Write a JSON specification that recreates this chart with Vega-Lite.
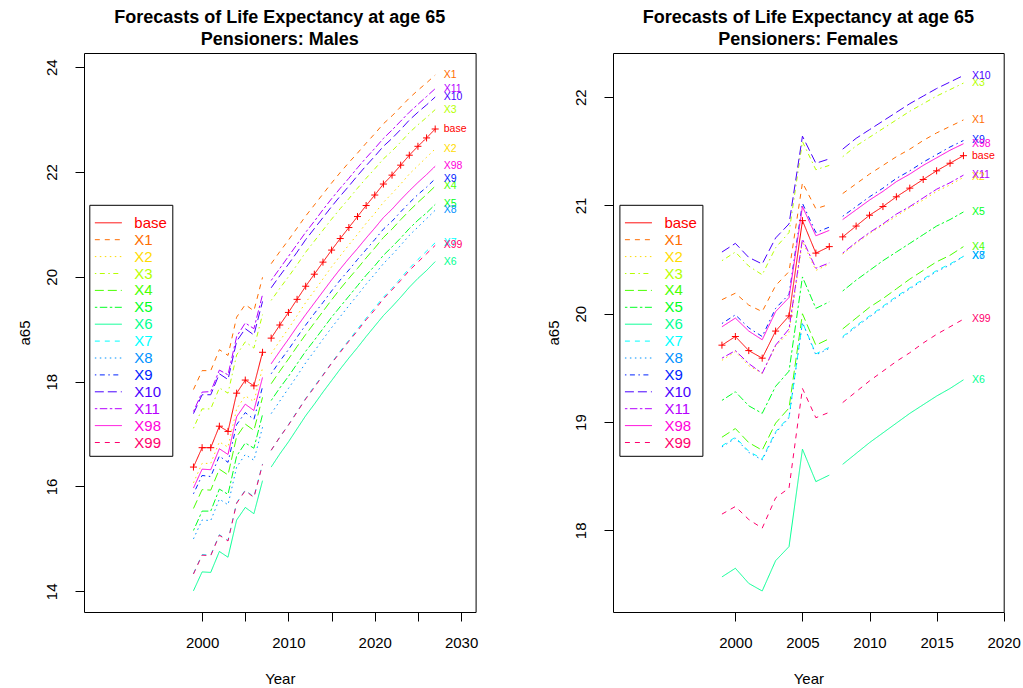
{
"$schema": "https://vega.github.io/schema/vega-lite/v6.json",
"padding": {"left": 16, "top": 8, "right": 0, "bottom": 0},
"config": {
 "font": "Liberation Sans",
 "view": {"stroke": "black", "strokeWidth": 1},
 "axis": {"domain": false, "grid": false, "tickColor": "black", "tickSize": 9, "labelColor": "black", "labelFontSize": 15, "titleFontSize": 15, "titleFontWeight": "normal", "titleColor": "black", "labelFont": "Liberation Sans", "titleFont": "Liberation Sans", "labelFlush": false},
 "axisX": {"labelBaseline": "alphabetic", "labelPadding": 26, "titleBaseline": "alphabetic", "titlePadding": 33.6, "minExtent": 38, "maxExtent": 38, "format": "d"},
 "axisY": {"labelAngle": -90, "labelAlign": "center", "labelBaseline": "alphabetic", "labelPadding": 19, "titleAngle": -90, "titleBaseline": "alphabetic", "titlePadding": 15, "minExtent": 40, "maxExtent": 40},
 "title": {"fontSize": 18, "fontWeight": "bold", "color": "black", "lineHeight": 22, "baseline": "bottom", "offset": 4, "anchor": "middle", "frame": "group", "font": "Liberation Sans"},
 "legend": {"symbolType": "stroke", "symbolSize": 729, "symbolStrokeWidth": 1, "labelFontSize": 15, "labelFont": "Liberation Sans", "strokeColor": "black", "fillColor": "white", "padding": 5, "rowPadding": 1.9, "clipHeight": 14, "labelOffset": 12, "symbolOffset": 0, "titleFontSize": 1, "titlePadding": 5,
  "labelColor": {"expr": "['#FF0000','#FF6D00','#FFDB00','#B6FF00','#49FF00','#00FF24','#00FF92','#00FFFF','#0092FF','#0024FF','#4900FF','#B600FF','#FF00DB','#FF006D'][indexof(['base','X1','X2','X3','X4','X5','X6','X7','X8','X9','X10','X11','X98','X99'], datum.label)]"}}
},
"datasets": {
 "m": [
  {"Year":1999,"p":"h","base":16.37,"X1":17.85,"X2":16.07,"X3":17.11,"X4":15.58,"X5":15.16,"X6":14.01,"X7":14.34,"X8":15.00,"X9":15.86,"X10":17.39,"X11":17.43,"X98":15.97,"X99":14.33},
  {"Year":2000,"p":"h","base":16.74,"X1":18.21,"X2":16.44,"X3":17.48,"X4":15.94,"X5":15.53,"X6":14.37,"X7":14.70,"X8":15.36,"X9":16.21,"X10":17.75,"X11":17.80,"X98":16.33,"X99":14.69},
  {"Year":2001,"p":"h","base":16.74,"X1":18.21,"X2":16.44,"X3":17.48,"X4":15.93,"X5":15.53,"X6":14.36,"X7":14.69,"X8":15.35,"X9":16.19,"X10":17.75,"X11":17.81,"X98":16.32,"X99":14.68},
  {"Year":2002,"p":"h","base":17.15,"X1":18.61,"X2":16.85,"X3":17.88,"X4":16.33,"X5":15.95,"X6":14.76,"X7":15.08,"X8":15.76,"X9":16.58,"X10":18.15,"X11":18.22,"X98":16.72,"X99":15.07},
  {"Year":2003,"p":"h","base":17.05,"X1":18.50,"X2":16.75,"X3":17.78,"X4":16.22,"X5":15.85,"X6":14.65,"X7":14.97,"X8":15.65,"X9":16.46,"X10":18.04,"X11":18.13,"X98":16.61,"X99":14.96},
  {"Year":2004,"p":"h","base":17.78,"X1":19.23,"X2":17.48,"X3":18.51,"X4":16.95,"X5":16.58,"X6":15.36,"X7":15.69,"X8":16.37,"X9":17.18,"X10":18.77,"X11":18.86,"X98":17.33,"X99":15.68},
  {"Year":2005,"p":"h","base":18.03,"X1":19.47,"X2":17.73,"X3":18.76,"X4":17.19,"X5":16.83,"X6":15.60,"X7":15.93,"X8":16.61,"X9":17.41,"X10":19.01,"X11":19.12,"X98":17.57,"X99":15.92},
  {"Year":2006,"p":"h","base":17.92,"X1":19.35,"X2":17.62,"X3":18.64,"X4":17.07,"X5":16.73,"X6":15.48,"X7":15.80,"X8":16.50,"X9":17.28,"X10":18.89,"X11":19.01,"X98":17.45,"X99":15.79},
  {"Year":2007,"p":"h","base":18.56,"X1":19.99,"X2":18.26,"X3":19.28,"X4":17.70,"X5":17.37,"X6":16.11,"X7":16.43,"X8":17.13,"X9":17.90,"X10":19.53,"X11":19.66,"X98":18.08,"X99":16.42},
  {"Year":2008,"p":"f","base":18.83,"X1":20.25,"X2":18.53,"X3":19.55,"X4":17.96,"X5":17.64,"X6":16.37,"X7":16.69,"X8":17.39,"X9":18.15,"X10":19.79,"X11":19.93,"X98":18.34,"X99":16.69},
  {"Year":2009,"p":"f","base":19.08,"X1":20.48,"X2":18.78,"X3":19.78,"X4":18.20,"X5":17.88,"X6":16.62,"X7":16.94,"X8":17.63,"X9":18.39,"X10":20.02,"X11":20.16,"X98":18.58,"X99":16.94},
  {"Year":2010,"p":"f","base":19.32,"X1":20.70,"X2":19.01,"X3":20.00,"X4":18.43,"X5":18.10,"X6":16.85,"X7":17.18,"X8":17.87,"X9":18.61,"X10":20.24,"X11":20.39,"X98":18.81,"X99":17.17},
  {"Year":2011,"p":"f","base":19.57,"X1":20.93,"X2":19.26,"X3":20.23,"X4":18.67,"X5":18.34,"X6":17.10,"X7":17.43,"X8":18.11,"X9":18.85,"X10":20.47,"X11":20.62,"X98":19.05,"X99":17.42},
  {"Year":2012,"p":"f","base":19.82,"X1":21.16,"X2":19.51,"X3":20.47,"X4":18.90,"X5":18.58,"X6":17.35,"X7":17.68,"X8":18.36,"X9":19.08,"X10":20.71,"X11":20.85,"X98":19.28,"X99":17.67},
  {"Year":2013,"p":"f","base":20.05,"X1":21.37,"X2":19.73,"X3":20.68,"X4":19.12,"X5":18.79,"X6":17.57,"X7":17.91,"X8":18.58,"X9":19.30,"X10":20.92,"X11":21.06,"X98":19.50,"X99":17.89},
  {"Year":2014,"p":"f","base":20.28,"X1":21.58,"X2":19.96,"X3":20.89,"X4":19.34,"X5":19.01,"X6":17.80,"X7":18.13,"X8":18.81,"X9":19.51,"X10":21.13,"X11":21.28,"X98":19.72,"X99":18.12},
  {"Year":2015,"p":"f","base":20.51,"X1":21.79,"X2":20.19,"X3":21.10,"X4":19.56,"X5":19.23,"X6":18.02,"X7":18.36,"X8":19.03,"X9":19.73,"X10":21.34,"X11":21.49,"X98":19.94,"X99":18.35},
  {"Year":2016,"p":"f","base":20.73,"X1":21.99,"X2":20.40,"X3":21.30,"X4":19.77,"X5":19.43,"X6":18.24,"X7":18.58,"X8":19.24,"X9":19.94,"X10":21.54,"X11":21.69,"X98":20.15,"X99":18.56},
  {"Year":2017,"p":"f","base":20.94,"X1":22.18,"X2":20.61,"X3":21.49,"X4":19.97,"X5":19.63,"X6":18.45,"X7":18.79,"X8":19.45,"X9":20.13,"X10":21.73,"X11":21.88,"X98":20.35,"X99":18.77},
  {"Year":2018,"p":"f","base":21.15,"X1":22.36,"X2":20.81,"X3":21.69,"X4":20.16,"X5":19.83,"X6":18.65,"X7":19.00,"X8":19.65,"X9":20.33,"X10":21.93,"X11":22.08,"X98":20.54,"X99":18.97},
  {"Year":2019,"p":"f","base":21.36,"X1":22.55,"X2":21.02,"X3":21.88,"X4":20.36,"X5":20.03,"X6":18.86,"X7":19.21,"X8":19.86,"X9":20.52,"X10":22.12,"X11":22.27,"X98":20.74,"X99":19.18},
  {"Year":2020,"p":"f","base":21.56,"X1":22.73,"X2":21.21,"X3":22.06,"X4":20.55,"X5":20.21,"X6":19.06,"X7":19.41,"X8":20.05,"X9":20.71,"X10":22.30,"X11":22.45,"X98":20.93,"X99":19.37},
  {"Year":2021,"p":"f","base":21.77,"X1":22.92,"X2":21.42,"X3":22.25,"X4":20.75,"X5":20.41,"X6":19.26,"X7":19.61,"X8":20.25,"X9":20.91,"X10":22.49,"X11":22.64,"X98":21.13,"X99":19.58},
  {"Year":2022,"p":"f","base":21.94,"X1":23.07,"X2":21.59,"X3":22.40,"X4":20.91,"X5":20.57,"X6":19.43,"X7":19.78,"X8":20.42,"X9":21.06,"X10":22.64,"X11":22.80,"X98":21.29,"X99":19.75},
  {"Year":2023,"p":"f","base":22.13,"X1":23.24,"X2":21.77,"X3":22.57,"X4":21.09,"X5":20.74,"X6":19.61,"X7":19.97,"X8":20.60,"X9":21.24,"X10":22.81,"X11":22.97,"X98":21.47,"X99":19.93},
  {"Year":2024,"p":"f","base":22.32,"X1":23.41,"X2":21.96,"X3":22.75,"X4":21.26,"X5":20.92,"X6":19.80,"X7":20.16,"X8":20.79,"X9":21.41,"X10":22.99,"X11":23.14,"X98":21.64,"X99":20.12},
  {"Year":2025,"p":"f","base":22.49,"X1":23.56,"X2":22.12,"X3":22.90,"X4":21.42,"X5":21.08,"X6":19.97,"X7":20.33,"X8":20.95,"X9":21.57,"X10":23.14,"X11":23.29,"X98":21.80,"X99":20.28},
  {"Year":2026,"p":"f","base":22.65,"X1":23.70,"X2":22.28,"X3":23.04,"X4":21.57,"X5":21.22,"X6":20.12,"X7":20.49,"X8":21.11,"X9":21.71,"X10":23.28,"X11":23.44,"X98":21.95,"X99":20.44},
  {"Year":2027,"p":"f","base":22.82,"X1":23.85,"X2":22.44,"X3":23.19,"X4":21.73,"X5":21.38,"X6":20.29,"X7":20.65,"X8":21.27,"X9":21.87,"X10":23.43,"X11":23.59,"X98":22.11,"X99":20.60}
 ],
 "f": [
  {"Year":1999,"p":"h","base":19.71,"X1":20.13,"X2":19.57,"X3":20.49,"X4":18.86,"X5":19.20,"X6":17.57,"X7":18.78,"X8":18.77,"X9":19.91,"X10":20.57,"X11":19.59,"X98":19.88,"X99":18.15},
  {"Year":2000,"p":"h","base":19.79,"X1":20.19,"X2":19.65,"X3":20.57,"X4":18.94,"X5":19.28,"X6":17.65,"X7":18.86,"X8":18.85,"X9":19.99,"X10":20.65,"X11":19.66,"X98":19.96,"X99":18.22},
  {"Year":2001,"p":"h","base":19.66,"X1":20.08,"X2":19.52,"X3":20.44,"X4":18.81,"X5":19.15,"X6":17.51,"X7":18.73,"X8":18.72,"X9":19.87,"X10":20.52,"X11":19.54,"X98":19.84,"X99":18.10},
  {"Year":2002,"p":"h","base":19.59,"X1":20.02,"X2":19.45,"X3":20.36,"X4":18.74,"X5":19.08,"X6":17.44,"X7":18.66,"X8":18.65,"X9":19.79,"X10":20.46,"X11":19.45,"X98":19.76,"X99":18.02},
  {"Year":2003,"p":"h","base":19.84,"X1":20.26,"X2":19.70,"X3":20.61,"X4":18.99,"X5":19.33,"X6":17.72,"X7":18.91,"X8":18.90,"X9":20.05,"X10":20.70,"X11":19.71,"X98":20.02,"X99":18.30},
  {"Year":2004,"p":"h","base":19.98,"X1":20.39,"X2":19.83,"X3":20.75,"X4":19.13,"X5":19.47,"X6":17.85,"X7":19.05,"X8":19.04,"X9":20.18,"X10":20.83,"X11":19.86,"X98":20.15,"X99":18.39},
  {"Year":2005,"p":"h","base":20.86,"X1":21.21,"X2":20.67,"X3":21.59,"X4":20.00,"X5":20.34,"X6":18.75,"X7":19.92,"X8":19.92,"X9":21.02,"X10":21.64,"X11":20.69,"X98":20.99,"X99":19.31},
  {"Year":2006,"p":"h","base":20.56,"X1":20.97,"X2":20.40,"X3":21.33,"X4":19.71,"X5":20.05,"X6":18.45,"X7":19.63,"X8":19.62,"X9":20.75,"X10":21.39,"X11":20.42,"X98":20.72,"X99":19.04},
  {"Year":2007,"p":"h","base":20.62,"X1":21.01,"X2":20.46,"X3":21.37,"X4":19.77,"X5":20.11,"X6":18.51,"X7":19.69,"X8":19.68,"X9":20.80,"X10":21.43,"X11":20.47,"X98":20.77,"X99":19.09},
  {"Year":2008,"p":"f","base":20.71,"X1":21.11,"X2":20.55,"X3":21.45,"X4":19.86,"X5":20.21,"X6":18.61,"X7":19.79,"X8":19.78,"X9":20.90,"X10":21.52,"X11":20.56,"X98":20.87,"X99":19.18},
  {"Year":2009,"p":"f","base":20.81,"X1":21.20,"X2":20.65,"X3":21.55,"X4":19.96,"X5":20.31,"X6":18.71,"X7":19.89,"X8":19.88,"X9":20.99,"X10":21.62,"X11":20.66,"X98":20.96,"X99":19.28},
  {"Year":2010,"p":"f","base":20.91,"X1":21.29,"X2":20.74,"X3":21.63,"X4":20.06,"X5":20.40,"X6":18.81,"X7":19.98,"X8":19.97,"X9":21.08,"X10":21.70,"X11":20.75,"X98":21.05,"X99":19.38},
  {"Year":2011,"p":"f","base":20.99,"X1":21.37,"X2":20.82,"X3":21.71,"X4":20.14,"X5":20.49,"X6":18.90,"X7":20.07,"X8":20.06,"X9":21.16,"X10":21.78,"X11":20.83,"X98":21.13,"X99":19.47},
  {"Year":2012,"p":"f","base":21.08,"X1":21.45,"X2":20.90,"X3":21.79,"X4":20.23,"X5":20.57,"X6":18.99,"X7":20.16,"X8":20.15,"X9":21.25,"X10":21.86,"X11":20.92,"X98":21.22,"X99":19.56},
  {"Year":2013,"p":"f","base":21.16,"X1":21.52,"X2":20.98,"X3":21.87,"X4":20.32,"X5":20.65,"X6":19.08,"X7":20.24,"X8":20.23,"X9":21.32,"X10":21.94,"X11":20.99,"X98":21.29,"X99":19.64},
  {"Year":2014,"p":"f","base":21.24,"X1":21.60,"X2":21.05,"X3":21.94,"X4":20.40,"X5":20.73,"X6":19.16,"X7":20.32,"X8":20.31,"X9":21.40,"X10":22.01,"X11":21.07,"X98":21.37,"X99":19.73},
  {"Year":2015,"p":"f","base":21.32,"X1":21.67,"X2":21.13,"X3":22.01,"X4":20.48,"X5":20.81,"X6":19.24,"X7":20.40,"X8":20.39,"X9":21.47,"X10":22.08,"X11":21.15,"X98":21.44,"X99":19.81},
  {"Year":2016,"p":"f","base":21.39,"X1":21.73,"X2":21.19,"X3":22.07,"X4":20.54,"X5":20.87,"X6":19.31,"X7":20.46,"X8":20.45,"X9":21.54,"X10":22.14,"X11":21.21,"X98":21.51,"X99":19.88},
  {"Year":2017,"p":"f","base":21.46,"X1":21.79,"X2":21.26,"X3":22.13,"X4":20.62,"X5":20.94,"X6":19.39,"X7":20.53,"X8":20.53,"X9":21.60,"X10":22.20,"X11":21.28,"X98":21.57,"X99":19.95}
 ]
},
"spacing": 66,
"resolve": {"scale": {"color": "independent", "strokeDash": "independent", "fill": "independent"}, "legend": {"color": "independent", "strokeDash": "independent"}},
"hconcat": [
 {
  "width": 391.6, "height": 559,
  "title": {"text": ["Forecasts of Life Expectancy at age 65", "Pensioners: Males"]},
  "data": {"name": "m"},
  "transform": [{"fold": ["base","X1","X2","X3","X4","X5","X6","X7","X8","X9","X10","X11","X98","X99"], "as": ["series","a65"]}],
  "encoding": {
   "x": {"field": "Year", "type": "quantitative", "scale": {"domain": [1986.32, 2031.68], "nice": false, "zero": false}, "axis": {"values": [2000,2005,2010,2015,2020,2025,2030], "labelExpr": "datum.value % 10 == 0 ? datum.label : ''", "title": "Year"}},
   "y": {"field": "a65", "type": "quantitative", "scale": {"domain": [13.605, 24.27], "nice": false, "zero": false}, "axis": {"values": [14,16,18,20,22,24], "title": "a65"}}
  },
  "layer": [
   {"mark": {"type": "line", "strokeWidth": 1},
    "encoding": {
     "color": {"field": "series", "type": "nominal", "scale": {"domain": ["base","X1","X2","X3","X4","X5","X6","X7","X8","X9","X10","X11","X98","X99"], "range": ["#FF0000","#FF6D00","#FFDB00","#B6FF00","#49FF00","#00FF24","#00FF92","#00FFFF","#0092FF","#0024FF","#4900FF","#B600FF","#FF00DB","#FF006D"]}, "legend": {"orient": "none", "legendX": 5.3, "legendY": 151.8, "title": " "}},
     "strokeDash": {"field": "series", "type": "nominal", "scale": {"domain": ["base","X1","X2","X3","X4","X5","X6","X7","X8","X9","X10","X11","X98","X99"], "range": [[1,0],[5,5],[1.5,3.5],[1.5,3.5,5,3.5],[9,4],[2.5,2.5,7.5,2.5],[1,0],[5,5],[1.5,3.5],[1.5,3.5,5,3.5],[9,4],[2.5,2.5,7.5,2.5],[1,0],[5,5]]}, "legend": {"orient": "none", "legendX": 5.3, "legendY": 151.8, "title": " "}},
     "detail": {"field": "p"}
    }},
   {"transform": [{"filter": "datum.series == 'base'"}],
    "mark": {"type": "point", "shape": "M-1,0L1,0M0,-1L0,1", "size": 49, "filled": false, "color": "#FF0000", "strokeWidth": 1, "opacity": 1}},
   {"transform": [{"filter": "datum.Year == 2027"}],
    "mark": {"type": "text", "align": "left", "baseline": "middle", "dx": 8.5, "fontSize": 10.5},
    "encoding": {"text": {"field": "series"}, "fill": {"field": "series", "type": "nominal", "scale": {"domain": ["base","X1","X2","X3","X4","X5","X6","X7","X8","X9","X10","X11","X98","X99"], "range": ["#FF0000","#FF6D00","#FFDB00","#B6FF00","#49FF00","#00FF24","#00FF92","#00FFFF","#0092FF","#0024FF","#4900FF","#B600FF","#FF00DB","#FF006D"]}, "legend": null}}}
  ]
 },
 {
  "width": 390.7, "height": 559,
  "title": {"text": ["Forecasts of Life Expectancy at age 65", "Pensioners: Females"]},
  "data": {"name": "f"},
  "transform": [{"fold": ["base","X1","X2","X3","X4","X5","X6","X7","X8","X9","X10","X11","X98","X99"], "as": ["series","a65"]}],
  "encoding": {
   "x": {"field": "Year", "type": "quantitative", "scale": {"domain": [1990.88, 2020.0], "nice": false, "zero": false}, "axis": {"values": [2000,2005,2010,2015,2020], "title": "Year"}},
   "y": {"field": "a65", "type": "quantitative", "scale": {"domain": [17.246, 22.408], "nice": false, "zero": false}, "axis": {"values": [18,19,20,21,22], "title": "a65"}}
  },
  "layer": [
   {"mark": {"type": "line", "strokeWidth": 1},
    "encoding": {
     "color": {"field": "series", "type": "nominal", "scale": {"domain": ["base","X1","X2","X3","X4","X5","X6","X7","X8","X9","X10","X11","X98","X99"], "range": ["#FF0000","#FF6D00","#FFDB00","#B6FF00","#49FF00","#00FF24","#00FF92","#00FFFF","#0092FF","#0024FF","#4900FF","#B600FF","#FF00DB","#FF006D"]}, "legend": {"orient": "none", "legendX": 6.4, "legendY": 151.8, "title": " "}},
     "strokeDash": {"field": "series", "type": "nominal", "scale": {"domain": ["base","X1","X2","X3","X4","X5","X6","X7","X8","X9","X10","X11","X98","X99"], "range": [[1,0],[5,5],[1.5,3.5],[1.5,3.5,5,3.5],[9,4],[2.5,2.5,7.5,2.5],[1,0],[5,5],[1.5,3.5],[1.5,3.5,5,3.5],[9,4],[2.5,2.5,7.5,2.5],[1,0],[5,5]]}, "legend": {"orient": "none", "legendX": 6.4, "legendY": 151.8, "title": " "}},
     "detail": {"field": "p"}
    }},
   {"transform": [{"filter": "datum.series == 'base'"}],
    "mark": {"type": "point", "shape": "M-1,0L1,0M0,-1L0,1", "size": 49, "filled": false, "color": "#FF0000", "strokeWidth": 1, "opacity": 1}},
   {"transform": [{"filter": "datum.Year == 2017"}],
    "mark": {"type": "text", "align": "left", "baseline": "middle", "dx": 8.5, "fontSize": 10.5},
    "encoding": {"text": {"field": "series"}, "fill": {"field": "series", "type": "nominal", "scale": {"domain": ["base","X1","X2","X3","X4","X5","X6","X7","X8","X9","X10","X11","X98","X99"], "range": ["#FF0000","#FF6D00","#FFDB00","#B6FF00","#49FF00","#00FF24","#00FF92","#00FFFF","#0092FF","#0024FF","#4900FF","#B600FF","#FF00DB","#FF006D"]}, "legend": null}}}
  ]
 }
]
}
